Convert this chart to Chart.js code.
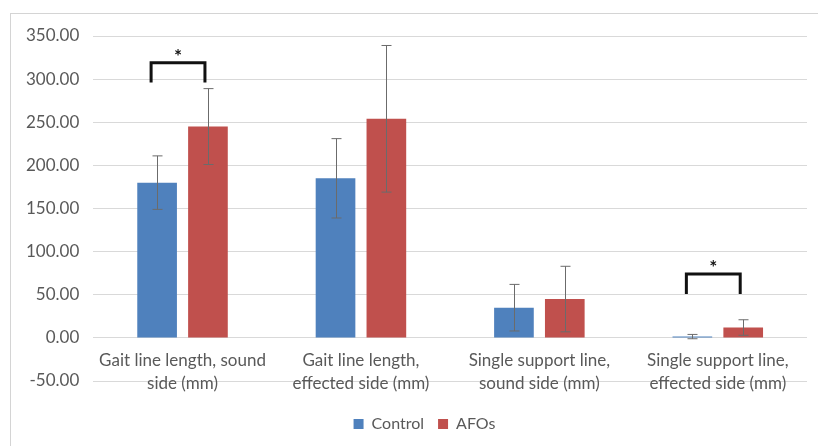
<!DOCTYPE html>
<html>
<head>
<meta charset="utf-8">
<script src="https://cdn.jsdelivr.net/npm/chart.js@4"></script>
<style>
  body { margin: 0; background: #fff; }
  #wrap { position: relative; width: 818px; height: 446px; }
  #frame { position: absolute; left: 10px; top: 13px; right: 0; bottom: 0;
           border-top: 1px solid #d4d4d4; border-left: 1px solid #d4d4d4; }
  canvas { position: absolute; left: 0; top: 0; }
</style>
</head>
<body>
<div id="wrap">
  <div id="frame"></div>
  <canvas id="myChart" width="818" height="446"></canvas>
</div>
<script>
// values
var categories = [
	["Gait line length, sound", "side (mm)"],
	["Gait line length,", "effected side (mm)"],
	["Single support line,", "sound side (mm)"],
	["Single support line,", "effected side (mm)"]
];
var controlMeans = [180, 185, 35, 1.5];
var controlSD = [31, 46, 27, 2.5];
var afoMeans = [245, 254, 45, 12];
var afoSD = [44, 85, 38, 9];
var yTicks = [-50, 0, 50, 100, 150, 200, 250, 300, 350];

// significance brackets: category index, leg bottom, bar top (data units)
var sigCategory = [0, 3];
var sigLow = [296, 51];
var sigHigh = [319, 74];

var errorBars = {
	id: 'errorBars',
	afterLayout: function (chart) {
		// legend sits a little right of centre in the original
		chart.legend.left += 15;
		chart.legend.right += 15;
	},
	afterDatasetsDraw: function (chart) {
		var ctx = chart.ctx;
		var y = chart.scales.y;
		var sds = [controlSD, afoSD];
		ctx.save();
		ctx.strokeStyle = '#6b6b6b';
		ctx.lineWidth = 1;
		chart.data.datasets.forEach(function (ds, d) {
			var meta = chart.getDatasetMeta(d);
			meta.data.forEach(function (bar, i) {
				var x = Math.round(bar.x) + 0.5;
				var top = y.getPixelForValue(ds.data[i] + sds[d][i]);
				var bot = y.getPixelForValue(ds.data[i] - sds[d][i]);
				ctx.beginPath();
				ctx.moveTo(x, top); ctx.lineTo(x, bot);
				ctx.moveTo(x - 5, top); ctx.lineTo(x + 5, top);
				ctx.moveTo(x - 5, bot); ctx.lineTo(x + 5, bot);
				ctx.stroke();
			});
		});
		// brackets with asterisks
		var m0 = chart.getDatasetMeta(0), m1 = chart.getDatasetMeta(1);
		ctx.strokeStyle = '#111';
		ctx.lineWidth = 3;
		ctx.fillStyle = '#111';
		ctx.font = 'bold 19px Lato, sans-serif';
		ctx.textAlign = 'center';
		ctx.textBaseline = 'middle';
		sigCategory.forEach(function (c, k) {
			var x1 = m0.data[c].x - 6, x2 = m1.data[c].x - 3;
			var lo = y.getPixelForValue(sigLow[k]);
			var hi = y.getPixelForValue(sigHigh[k]);
			ctx.beginPath();
			ctx.moveTo(x1, lo); ctx.lineTo(x1, hi); ctx.lineTo(x2, hi); ctx.lineTo(x2, lo);
			ctx.stroke();
			ctx.fillText('*', (x1 + x2) / 2, hi - 6);
		});
		ctx.restore();
	}
};

var ctx = document.getElementById("myChart").getContext('2d');
var myChart = new Chart(ctx, {
	type: 'bar',
	data: {
		labels: categories,
		datasets: [{
			label: "Control",
			data: controlMeans,
			backgroundColor: "#4F81BD"
		}, {
			label: "AFOs",
			data: afoMeans,
			backgroundColor: "#C0504D"
		}]
	},
	options: {
		responsive: false,
		animation: false,
		layout: { padding: { top: 36, right: 11, left: 12, bottom: 4 } },
		datasets: { bar: { barPercentage: 0.78, categoryPercentage: 0.57 } },
		scales: {
			y: {
				min: -50,
				max: 350,
				afterBuildTicks: function (axis) {
					axis.ticks = yTicks.map(function (v) { return { value: v }; });
				},
				ticks: {
					padding: 14,
					color: '#595959',
					font: { family: 'Lato, sans-serif', size: 17 },
					callback: function (v) { return Number(v).toFixed(2); }
				},
				grid: { color: '#d9d9d9', drawTicks: false },
				border: { display: false }
			},
			x: {
				position: { y: 0 },
				ticks: {
					padding: 12,
					color: '#595959',
					maxRotation: 0,
					font: { family: 'Lato, sans-serif', size: 17, lineHeight: 1.3 }
				},
				grid: { display: false, drawTicks: false },
				border: { display: false }
			}
		},
		plugins: {
			legend: {
				position: 'bottom',
				title: {
					display: true,
					text: '',
					font: { size: 1, lineHeight: 1 },
					padding: { top: 20, bottom: 0 }
				},
				labels: {
					boxWidth: 10,
					boxHeight: 10,
					padding: 14,
					color: '#595959',
					font: { family: 'Lato, sans-serif', size: 16 }
				}
			},
			tooltip: { enabled: false }
		}
	},
	plugins: [errorBars]
});
</script>
</body>
</html>
